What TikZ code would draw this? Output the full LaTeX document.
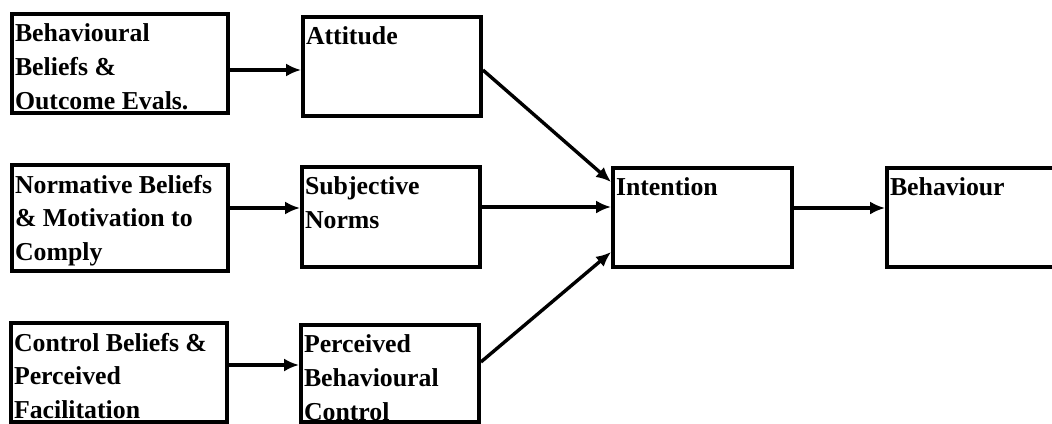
\documentclass[tikz,border=0pt]{standalone}
\usepackage{fontspec}
\setmainfont{Liberation Serif}
\usetikzlibrary{arrows.meta}
\newcommand\bxc[3]{\parbox[c][#2][t]{#1}{\vspace*{5pt}\raggedright\leftskip=1.5pt\fontsize{12.9pt}{16.8pt}\selectfont\bfseries #3}}
\tikzset{
  bx/.style={draw, line width=1.9pt, inner sep=0pt, rectangle},
  arr/.style={line width=1.7pt, -{Latex[length=7.5pt,width=6.5pt]}}
}
\begin{document}
\begin{tikzpicture}[x=0.5pt,y=-0.5pt]
\useasboundingbox (0,0) rectangle (1052,423);
\clip (0,0) rectangle (1052,423);
\node[bx] (bb)  at (120,63.5)   {\bxc{108pt}{49.5pt}{Behavioural\\Beliefs \&\\Outcome Evals.}};
\node[bx] (att) at (392,66.5)   {\bxc{89pt}{49.5pt}{Attitude}};
\node[bx] (nb)  at (120,218)    {\bxc{108pt}{53pt}{Normative Beliefs\\\& Motivation to\\Comply}};
\node[bx] (sn)  at (391,217)    {\bxc{89pt}{50pt}{Subjective\\Norms}};
\node[bx] (cb)  at (119,372.5)  {\bxc{108pt}{49.5pt}{Control Beliefs \&\\Perceived\\Facilitation}};
\node[bx] (pbc) at (390,373.5)  {\bxc{89pt}{48.5pt}{Perceived\\Behavioural\\Control}};
\node[bx] (int) at (702.5,217.5){\bxc{89.5pt}{49.5pt}{Intention}};
\node[bx] (beh) at (979.5,217.5){\bxc{92.5pt}{49.5pt}{Behaviour}};
\draw[arr] ([yshift=-3.25pt]bb.east) -- ([yshift=-1.75pt]att.west);
\draw[arr] ([yshift=5pt]nb.east) -- ([yshift=4.5pt]sn.west);
\draw[arr] ([yshift=3.75pt]cb.east) -- ([yshift=4.25pt]pbc.west);
\draw[arr] ([yshift=-1.75pt]att.east) -- ([yshift=17.75pt]int.west);
\draw[arr] ([yshift=5pt]sn.east) -- ([yshift=5.25pt]int.west);
\draw[arr] ([yshift=5.75pt]pbc.east) -- ([yshift=-17.25pt]int.west);
\draw[arr] ([yshift=4.75pt]int.east) -- ([yshift=4.75pt]beh.west);
\end{tikzpicture}
\end{document}
